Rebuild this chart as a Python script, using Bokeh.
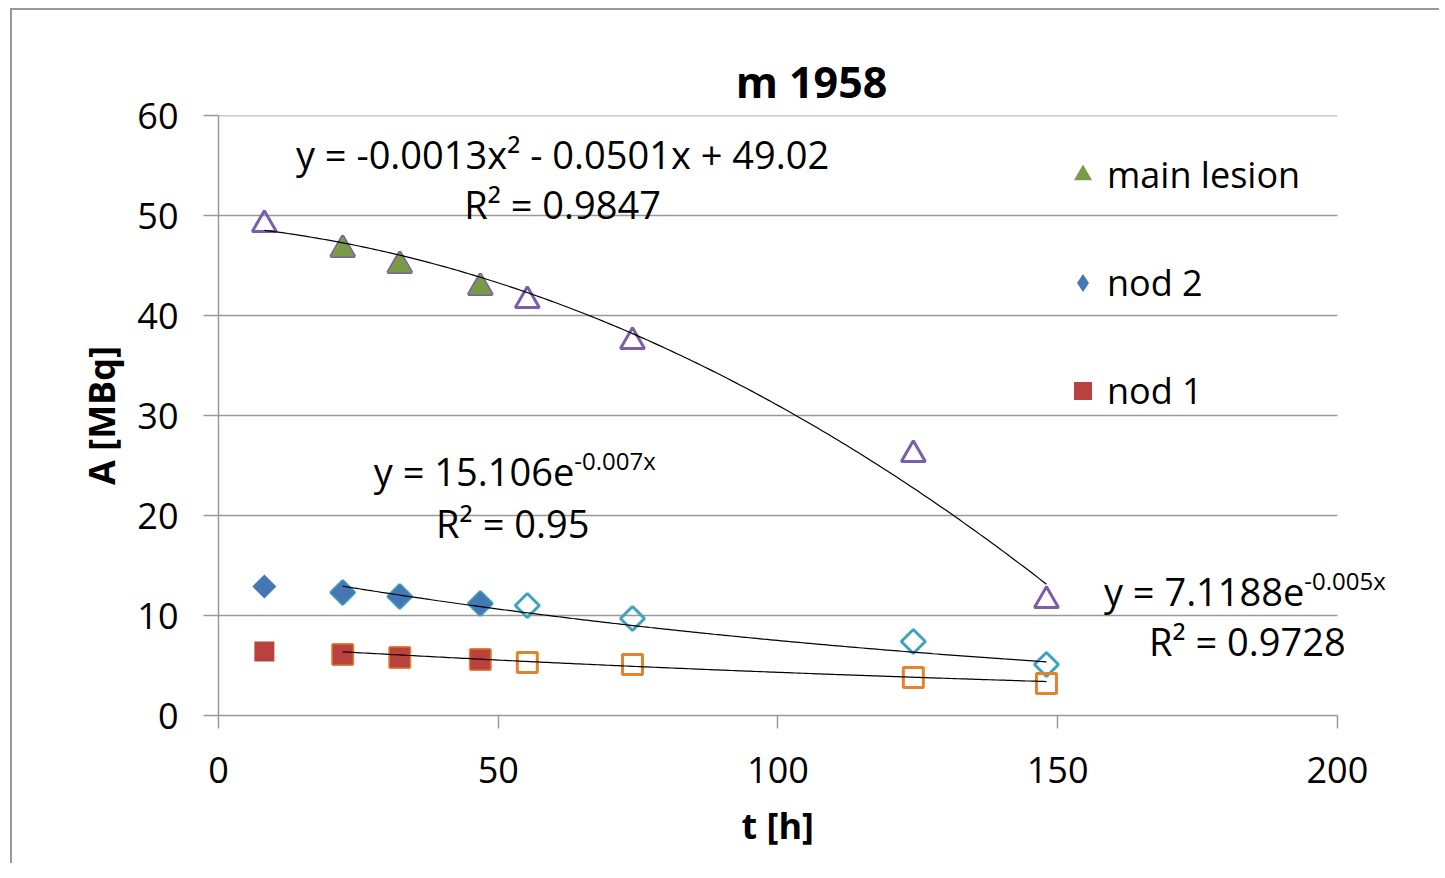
import numpy as np
from bokeh.plotting import figure
from bokeh.models import Range1d, SingleIntervalTicker, Label, Legend, LegendItem, Title
from bokeh.embed import file_html
from bokeh.resources import INLINE

# ---------------- data ----------------
title_text = "m 1958"
x_label = "t [h]"
y_label = "A [MBq]"

x_axis_bounds = [0, 200]
x_view_end = 212          # extra room right of the axis for the equation text
y_ticks = [0, 10, 20, 30, 40, 50, 60]

t_all = [8.2, 22.2, 32.4, 46.8, 55.2, 74.0, 124.2, 148.0]
t_first4 = [8.2, 22.2, 32.4, 46.8]
t_mid3 = [22.2, 32.4, 46.8]
t_from22 = [22.2, 32.4, 46.8, 55.2, 74.0, 124.2, 148.0]

main_open = [49.1, 46.6, 45.0, 42.8, 41.5, 37.4, 26.1, 11.5]
main_filled = [46.6, 45.0, 42.8]

nod2_filled = [12.9, 12.3, 11.9, 11.2]
nod2_open = [12.3, 11.9, 11.2, 11.0, 9.7, 7.4, 5.1]

nod1_filled = [6.4, 6.1, 5.8, 5.6]
nod1_open = [6.1, 5.8, 5.6, 5.3, 5.1, 3.8, 3.2]

# trendline coefficients as printed on the chart
poly_main = [-0.0013, -0.0501, 49.02]
r2_main = "0.9847"
exp_nod2 = [15.106, -0.007]
r2_nod2 = "0.95"
exp_nod1 = [7.1188, -0.005]
r2_nod1 = "0.9728"

legend_labels = ["main lesion", "nod 2", "nod 1"]

# ---------------- colours ----------------
GREEN = "#7a9a47"
PURPLE = "#7b5ea7"
BLUE = "#4677b5"
AQUA = "#3ea2bd"
RED = "#b9423f"
ORANGE = "#e4832f"
GRID = "#999999"
FONT = "Open Sans"

p = figure(width=1429, height=855,
           x_range=Range1d(0, x_view_end), y_range=Range1d(y_ticks[0], y_ticks[-1]),
           output_backend="svg", toolbar_location=None,
           min_border_left=206, min_border_right=37,
           min_border_top=105, min_border_bottom=150)
p.styles = {"border-top": "2px solid #999999", "border-left": "2px solid #999999",
            "margin-left": "10px", "margin-top": "8px"}

p.outline_line_color = None
p.background_fill_color = "white"
p.border_fill_color = "white"

p.title.text = title_text
p.title.align = "center"
p.title.text_font = FONT
p.title.text_font_size = "43px"
p.title.text_font_style = "bold"
p.title.text_color = "black"
p.title.standoff = 9

p.xaxis.ticker = SingleIntervalTicker(interval=50)
p.yaxis.ticker = SingleIntervalTicker(interval=10)
p.xaxis.bounds = tuple(x_axis_bounds)
for ax in (p.xaxis[0], p.yaxis[0]):
    ax.axis_line_color = GRID
    ax.axis_line_width = 1.5
    ax.major_tick_line_color = GRID
    ax.major_tick_line_width = 1.5
    ax.minor_tick_line_color = None
    ax.major_tick_in = 0
    ax.major_label_text_font = FONT
    ax.major_label_text_font_size = "36px"
    ax.major_label_text_color = "black"
    ax.axis_label_text_font = FONT
    ax.axis_label_text_font_size = "36px"
    ax.axis_label_text_font_style = "bold"
    ax.axis_label_text_color = "black"
p.xaxis.major_tick_out = 13
p.yaxis.major_tick_out = 15
p.xaxis.major_label_standoff = 28
p.yaxis.major_label_standoff = 25
p.yaxis.axis_label = y_label
p.yaxis.axis_label_standoff = 8

# x-axis title, placed under the middle of the 0-200 axis (not the wider frame)
p.add_layout(Title(text=x_label, align="left", offset=523, standoff=26,
                   text_font=FONT, text_font_size="36px", text_font_style="bold",
                   text_color="black"), "below")

p.xgrid.visible = False
p.ygrid.visible = False
# horizontal grid lines, limited to the axis extent
p.segment(x0=x_axis_bounds[0], x1=x_axis_bounds[1], y0=y_ticks[1:], y1=y_ticks[1:],
          line_color=GRID, line_width=1.5, level="underlay")

# ---------------- markers ----------------
# main lesion
p.scatter(t_all, main_open, marker="triangle", size=24, fill_color=None,
          line_color=PURPLE, line_width=3)
r_main = p.scatter(t_mid3, main_filled, marker="triangle", size=24,
                   fill_color=GREEN, line_color=None)
# nod 2 (diamonds = rotated squares)
p.scatter(t_from22, nod2_open, marker="square", angle=np.pi / 4, size=17,
          fill_color=None, line_color=AQUA, line_width=3)
r_nod2 = p.scatter(t_first4, nod2_filled, marker="square", angle=np.pi / 4, size=17,
                   fill_color=BLUE, line_color=None)
# legend swatch for nod 2 (the legend ignores marker angle); no visible point
r_nod2_leg = p.scatter([np.nan], [np.nan], marker="diamond", size=17,
                       fill_color=BLUE, line_color=None)
# nod 1
p.scatter(t_from22, nod1_open, marker="square", size=20,
          fill_color=None, line_color=ORANGE, line_width=3)
r_nod1 = p.scatter(t_first4, nod1_filled, marker="square", size=20,
                   fill_color=RED, line_color=None)

# ---------------- trendlines ----------------
tm = np.linspace(t_all[0], t_all[-1], 200)
p.line(tm, np.polyval(poly_main, tm), line_color="black", line_width=1.2)
tn = np.linspace(t_from22[0], t_from22[-1], 200)
p.line(tn, exp_nod2[0] * np.exp(exp_nod2[1] * tn), line_color="black", line_width=1.2)
p.line(tn, exp_nod1[0] * np.exp(exp_nod1[1] * tn), line_color="black", line_width=1.2)

# ---------------- equation labels ----------------
def lab(x, y, text, align="center", size="38px", yoff=0):
    p.add_layout(Label(x=x, y=y, text=text, text_align=align, text_baseline="middle",
                       text_font=FONT, text_font_size=size, text_color="black",
                       y_offset=yoff))

eq_main = f"y = {poly_main[0]}x\u00b2 - {abs(poly_main[1])}x + {poly_main[2]}"
lab(61.5, 56.2, eq_main)
lab(61.5, 51.2, f"R\u00b2 = {r2_main}")

lab(63.6, 24.5, f"y = {exp_nod2[0]}e", align="right")
lab(63.6, 24.5, f"{exp_nod2[1]}x", align="left", size="24px", yoff=10)
lab(52.6, 19.3, f"R\u00b2 = {r2_nod2}")

lab(194.1, 12.5, f"y = {exp_nod1[0]}e", align="right")
lab(194.1, 12.5, f"{exp_nod1[1]}x", align="left", size="24px", yoff=10)
lab(183.9, 7.5, f"R\u00b2 = {r2_nod1}")

# ---------------- legend ----------------
legend = Legend(items=[LegendItem(label=legend_labels[0], renderers=[r_main]),
                       LegendItem(label=legend_labels[1], renderers=[r_nod2_leg]),
                       LegendItem(label=legend_labels[2], renderers=[r_nod1])],
                location=(842, 300), orientation="vertical",
                glyph_width=45, glyph_height=49, label_standoff=2, spacing=59,
                padding=0, margin=0, border_line_color=None,
                background_fill_alpha=0,
                label_text_font=FONT, label_text_font_size="36px",
                label_text_color="black")
p.add_layout(legend)

open("out.html", "w").write(file_html(p, INLINE))
